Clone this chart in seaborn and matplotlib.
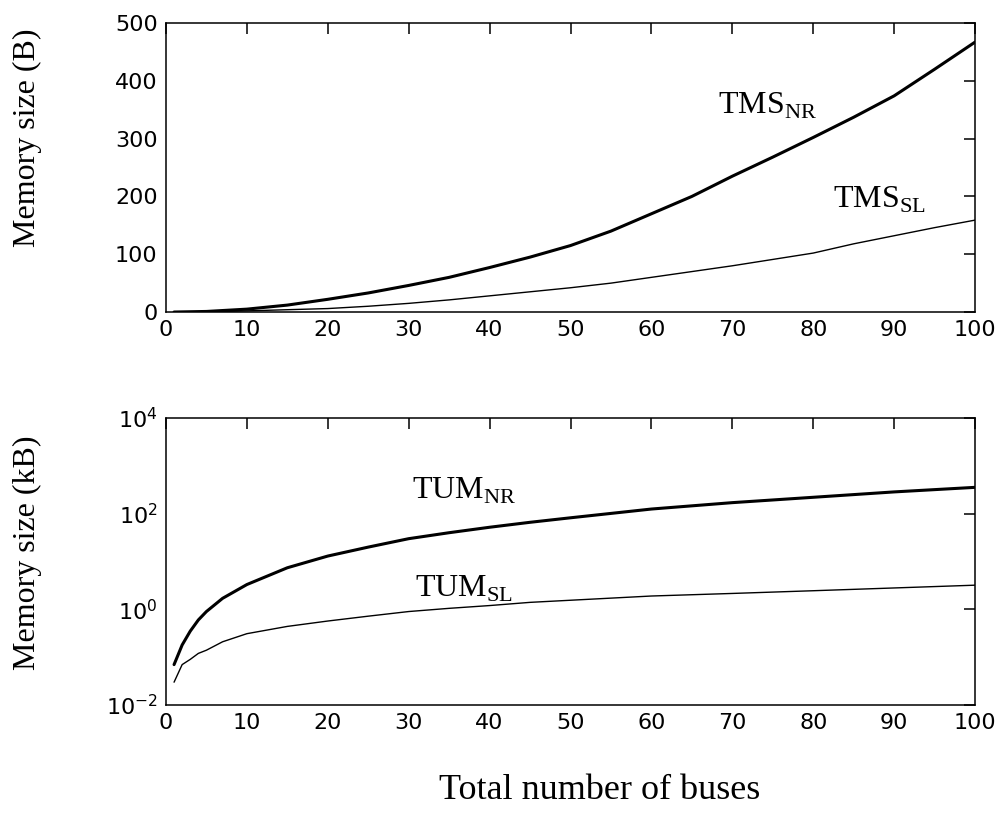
import numpy as np
import pandas as pd
import matplotlib
matplotlib.use("Agg")
import matplotlib.pyplot as plt
import matplotlib.ticker as mticker
import seaborn as sns

# values
buses_top = [1, 5, 10, 15, 20, 25, 30, 35, 40, 45, 50, 55, 60, 65, 70, 75, 80, 85, 90, 95, 100]
tms_nr = [0, 1, 5, 12, 22, 33, 46, 60, 77, 95, 115, 140, 170, 200, 235, 268, 302, 337, 374, 420, 467]
tms_sl = [0, 0.5, 2, 4, 6, 10, 15, 21, 28, 35, 42, 50, 60, 70, 80, 91, 102, 118, 132, 146, 159]

buses_bot = [1, 2, 3, 4, 5, 7, 10, 15, 20, 25, 30, 35, 40, 45, 50, 60, 70, 80, 90, 100]
tum_nr = [0.07, 0.18, 0.35, 0.6, 0.9, 1.7, 3.3, 7.4, 13, 20, 30, 40, 52, 66, 82, 125, 170, 220, 285, 355]
tum_sl = [0.03, 0.07, 0.09, 0.12, 0.14, 0.21, 0.31, 0.44, 0.57, 0.72, 0.9, 1.05, 1.2, 1.4, 1.55, 1.9, 2.15, 2.45, 2.8, 3.2]

sns.set_theme(style="white")
plt.rcParams["font.family"] = ["DejaVu Sans"]
plt.rcParams["mathtext.fontset"] = "custom"
plt.rcParams["mathtext.rm"] = "Liberation Serif"
plt.rcParams["mathtext.sf"] = "DejaVu Sans"
plt.rcParams["axes.edgecolor"] = "black"
plt.rcParams["axes.linewidth"] = 1.1
plt.rcParams["text.color"] = "black"

tick_font = 16
serif = ["Liberation Serif", "DejaVu Serif"]

top = pd.DataFrame({"x": buses_top, "nr": tms_nr, "sl": tms_sl})
bot = pd.DataFrame({"x": buses_bot, "nr": tum_nr, "sl": tum_sl})

fig = plt.figure(figsize=(9.98, 8.22), dpi=100)
ax1 = fig.add_axes([0.1663, 0.6204, 0.8107, 0.3516])
ax2 = fig.add_axes([0.1663, 0.1423, 0.8107, 0.3492])

sns.lineplot(data=top, x="x", y="nr", ax=ax1, color="black", linewidth=2.2)
sns.lineplot(data=top, x="x", y="sl", ax=ax1, color="black", linewidth=1.0)
sns.lineplot(data=bot, x="x", y="nr", ax=ax2, color="black", linewidth=2.2)
sns.lineplot(data=bot, x="x", y="sl", ax=ax2, color="black", linewidth=1.0)

ax1.set_xlim(0, 100)
ax1.set_ylim(0, 500)
ax1.set_xticks(range(0, 101, 10))
ax1.set_yticks(range(0, 501, 100))

ax2.set_yscale("log")
ax2.set_xlim(0, 100)
ax2.set_ylim(1e-2, 1e4)
ax2.set_xticks(range(0, 101, 10))
ax2.set_yticks([1e-2, 1e0, 1e2, 1e4])
ax2.yaxis.set_minor_locator(mticker.NullLocator())
ax2.yaxis.set_major_formatter(mticker.FuncFormatter(
    lambda v, p: r"$\mathsf{10^{%d}}$" % int(round(np.log10(v)))))

for ax in (ax1, ax2):
    ax.set_xlabel("")
    ax.set_ylabel("")
    ax.tick_params(direction="in", length=8, width=1.1, top=True, right=True,
                   labelsize=tick_font, colors="black", pad=6)
    for s in ax.spines.values():
        s.set_color("black")

ax1.text(68.2, 344, r"TMS$_{\mathrm{NR}}$", family=serif, fontsize=23, color="black")
ax1.text(82.4, 180, r"TMS$_{\mathrm{SL}}$", family=serif, fontsize=23, color="black")
ax2.text(30.4, 208, r"TUM$_{\mathrm{NR}}$", family=serif, fontsize=23, color="black")
ax2.text(30.8, 1.88, r"TUM$_{\mathrm{SL}}$", family=serif, fontsize=23, color="black")

fig.text(0.028, 1 - 138 / 822, "Memory size (B)", family=serif, fontsize=23,
         rotation=90, ha="center", va="center", color="black")
fig.text(0.028, 1 - 553 / 822, "Memory size (kB)", family=serif, fontsize=23,
         rotation=90, ha="center", va="center", color="black")
fig.text(0.601, 1 - 790 / 822, "Total number of buses", family=serif, fontsize=26,
         ha="center", va="center", color="black")

fig.savefig("out.png", dpi=100)
